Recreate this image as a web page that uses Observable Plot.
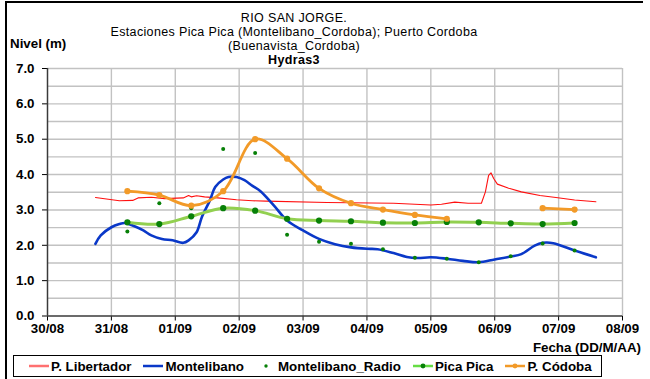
<!DOCTYPE html>
<html>
<head>
<meta charset="utf-8">
<script src="https://cdn.jsdelivr.net/npm/d3@7"></script>
<script src="https://cdn.jsdelivr.net/npm/@observablehq/plot@0.6"></script>
<style>
  body { margin: 0; background: #fff; }
  #chart { position: relative; width: 650px; height: 379px; overflow: hidden;
           font-family: "Liberation Sans", Arial, sans-serif; color: #000; background: #fff; }
  #chart > svg { position: absolute; left: 0; top: 0; }
  .frame { position: absolute; left: 5px; top: 1px; width: 638px; height: 420px;
           border-left: 2px solid #000; border-top: 2px solid #000; box-sizing: border-box; }
  .tline { position: absolute; left: 94px; width: 400px; height: 14px; text-align: center;
           font-size: 12.5px; line-height: 14px; letter-spacing: 0.35px; white-space: nowrap; }
  .ylabel { position: absolute; left: 10px; top: 37px; font-size: 13.33px; font-weight: bold; line-height: 14px; }
  .xlabel { position: absolute; right: 9px; top: 341px; font-size: 13.33px; font-weight: bold; line-height: 14px; }
  .legend { position: absolute; left: 13px; top: 355px; width: 589px; height: 22px;
            border: 1px solid #000; box-sizing: border-box; display: flex; align-items: center;
            padding-left: 15px; gap: 12px; }
  .item { height: 15px; display: flex; align-items: center;
          font-size: 13.33px; font-weight: bold; white-space: nowrap; }
  .item svg { display: block; margin-right: 2px; }
</style>
</head>
<body>
<div id="chart">
  <div class="frame"></div>
  <div class="tline" style="top:10.5px">RIO SAN JORGE.</div>
  <div class="tline" style="top:24.5px">Estaciones Pica Pica (Montelibano_Cordoba); Puerto Cordoba</div>
  <div class="tline" style="top:38.5px">(Buenavista_Cordoba)</div>
  <div class="tline" style="top:52.5px;font-weight:bold">Hydras3</div>
  <div class="ylabel">Nivel (m)</div>
  <div class="xlabel">Fecha (DD/M/AA)</div>
  <div class="legend" id="legend"></div>
</div>
<script>
// Axis labels: one tick per day, hours counted from 30/08 00:00
const dayLabels = ["30/08", "31/08", "01/09", "02/09", "03/09", "04/09", "05/09", "06/09", "07/09", "08/09"];
const dayHours = [0, 24, 48, 72, 96, 120, 144, 168, 192, 216];
const levelTicks = [0, 1, 2, 3, 4, 5, 6, 7];

// P. Libertador (hours, level m)
const libertadorHours = [18, 27, 32, 34, 39, 44, 51, 53, 54, 56, 59, 64, 71, 77, 82, 105, 130, 144, 148, 153, 158, 163, 164.5, 165.7, 166.6, 167.6, 169, 173, 178, 185, 191, 198, 206];
const libertadorLevel = [3.35, 3.26, 3.27, 3.34, 3.36, 3.32, 3.34, 3.41, 3.37, 3.40, 3.37, 3.34, 3.29, 3.26, 3.25, 3.21, 3.19, 3.14, 3.16, 3.22, 3.19, 3.19, 3.51, 3.98, 4.05, 3.89, 3.73, 3.62, 3.51, 3.41, 3.35, 3.28, 3.23];

// Montelibano (hours, level m)
const montelibanoHours = [18, 20, 24, 27, 29, 32, 36, 39, 43, 47, 51, 53, 56, 58, 61, 63, 66, 68, 71, 74, 77, 80, 85, 90, 96, 102, 108, 114, 120, 124, 130, 135, 139, 144, 150, 156, 162, 168, 174, 178, 183, 186, 190, 198, 206];
const montelibanoLevel = [2.04, 2.28, 2.51, 2.60, 2.63, 2.56, 2.42, 2.28, 2.18, 2.14, 2.07, 2.14, 2.37, 2.80, 3.27, 3.65, 3.86, 3.93, 3.93, 3.84, 3.68, 3.53, 3.13, 2.70, 2.42, 2.18, 2.03, 1.94, 1.90, 1.89, 1.78, 1.67, 1.64, 1.66, 1.62, 1.56, 1.52, 1.60, 1.68, 1.75, 1.99, 2.07, 2.06, 1.85, 1.66];

// Readings at 06:00 and 18:00, 31/08 to 07/09
const readingHours = [30, 42, 54, 66, 78, 90, 102, 114, 126, 138, 150, 162, 174, 186, 198];
const radioLevel   = [2.39, 3.19, 3.05, 4.72, 4.61, 2.30, 2.10, 2.04, 1.89, 1.65, 1.62, 1.52, 1.69, 2.05, 1.85];
const picaLevel    = [2.65, 2.60, 2.82, 3.05, 2.98, 2.75, 2.70, 2.68, 2.64, 2.63, 2.66, 2.65, 2.62, 2.60, 2.63];
const cordobaLevel = [3.53, 3.42, 3.12, 3.53, 5.00, 4.45, 3.61, 3.19, 3.01, 2.86, 2.75, null, null, 3.05, 3.01];

const gridLevels = d3.range(0.5, 7.01, 0.5);

const rows = (hs, vs) => hs.map((h, i) => ({h, v: vs[i]}));
const libertador = rows(libertadorHours, libertadorLevel);
const montelibano = rows(montelibanoHours, montelibanoLevel);
const radio = rows(readingHours, radioLevel);
const pica = rows(readingHours, picaLevel);
const cordoba = rows(readingHours, cordobaLevel);

const colors = {
  libertador: "#ff1010",
  montelibano: "#0a38c8",
  radio: "#078007",
  picaLine: "#92d050",
  cordoba: "#f29a28"
};

const chart = Plot.plot({
  width: 650,
  height: 379,
  marginLeft: 47,
  marginRight: 28,
  marginTop: 68,
  marginBottom: 63.5,
  style: {fontFamily: "'Liberation Sans', Arial, sans-serif", fontSize: "13.33px", fontWeight: "bold", background: "transparent", color: "#000"},
  x: {domain: [0, 216], ticks: dayHours, tickFormat: h => dayLabels[dayHours.indexOf(h)], tickSize: 5, tickPadding: 3, label: null},
  y: {domain: [0, 7], ticks: levelTicks, tickFormat: d3.format(".1f"), tickSize: 5, tickPadding: 8, label: null},
  marks: [
    Plot.ruleY(gridLevels, {stroke: "#c2c2c2", strokeWidth: 1.4}),
    Plot.ruleX(dayHours.slice(1), {stroke: "#c2c2c2", strokeWidth: 1.4}),
    Plot.ruleX([0], {stroke: "#3a3a3a", strokeWidth: 1.5}),
    Plot.ruleY([0], {stroke: "#3a3a3a", strokeWidth: 1.5}),
    Plot.line(libertador, {x: "h", y: "v", stroke: colors.libertador, strokeWidth: 1.1}),
    Plot.line(montelibano, {x: "h", y: "v", curve: "catmull-rom", stroke: colors.montelibano, strokeWidth: 2.6}),
    Plot.dot(radio, {x: "h", y: "v", r: 2, fill: colors.radio, stroke: "none"}),
    Plot.line(pica, {x: "h", y: "v", curve: "catmull-rom", stroke: colors.picaLine, strokeWidth: 3}),
    Plot.dot(pica, {x: "h", y: "v", r: 3.1, fill: colors.radio, stroke: "none"}),
    Plot.line(cordoba, {x: "h", y: "v", curve: "catmull-rom", stroke: colors.cordoba, strokeWidth: 2.8}),
    Plot.dot(cordoba, {x: "h", y: "v", r: 3.1, fill: colors.cordoba, stroke: "none"})
  ]
});
document.getElementById("chart").insertBefore(chart, document.querySelector(".tline"));

// Legend entries: swatch line colour and marker colour
const legendItems = [
  {label: "P. Libertador", line: "#ff7070", dot: null},
  {label: "Montelibano", line: colors.montelibano, dot: null},
  {label: "Montelibano_Radio", line: null, dot: colors.radio},
  {label: "Pica Pica", line: "#66dd44", dot: colors.radio},
  {label: "P. Códoba", line: colors.cordoba, dot: colors.cordoba}
];
const legend = d3.select("#legend");
for (const it of legendItems) {
  const item = legend.append("div").attr("class", "item");
  const sw = item.append("svg").attr("width", 20).attr("height", 10);
  if (it.line) sw.append("line").attr("x1", 0).attr("x2", 20).attr("y1", 5).attr("y2", 5).attr("stroke", it.line).attr("stroke-width", 2.5);
  if (it.dot) sw.append("circle").attr("cx", 10).attr("cy", 5).attr("r", it.line ? 2.4 : 1.7).attr("fill", it.dot);
  item.append("span").text(it.label);
}
</script>
</body>
</html>
